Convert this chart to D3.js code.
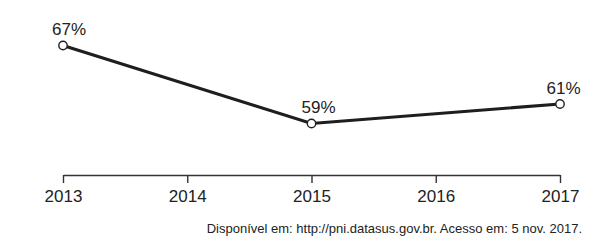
<!DOCTYPE html>
<html>
<head>
<meta charset="utf-8">
<script src="https://cdn.jsdelivr.net/npm/d3@7"></script>
<style>
  body { margin: 0; background: #fff; }
  svg { display: block; font-family: Arial, "Liberation Sans", sans-serif; }
</style>
</head>
<body>
<svg id="chart"></svg>
<script>
// data
var years = [2013, 2015, 2017];
var values = [67, 59, 61];
var tickYears = [2013, 2014, 2015, 2016, 2017];
var sourceText = "Disponível em: http://pni.datasus.gov.br. Acesso em: 5 nov. 2017.";

var screen = { width: 592, height: 243 };

var svg = d3.select("#chart")
    .attr("width", screen.width)
    .attr("height", screen.height);

var xScale = d3.scaleLinear()
    .domain([2013, 2017])
    .range([63, 560]);

var yScale = d3.scaleLinear()
    .domain([59, 67])
    .range([123.5, 45.5]);

var axisY = 175;

// x axis, ticks pointing down
var xAxis = d3.axisBottom(xScale)
    .tickValues(tickYears)
    .tickFormat(d3.format("d"))
    .tickSizeInner(8)
    .tickSizeOuter(0)
    .tickPadding(7);

var axis = svg.append("g")
    .attr("transform", "translate(0," + axisY + ")")
    .call(xAxis);

axis.select(".domain")
    .attr("stroke", "#333")
    .attr("stroke-width", 1.4);
axis.selectAll(".tick line")
    .attr("stroke", "#333")
    .attr("stroke-width", 1.4);
axis.selectAll(".tick text")
    .attr("fill", "#222")
    .style("font-size", "17px")
    .style("font-family", "Arial, 'Liberation Sans', sans-serif");

var points = years.map(function (y, i) {
    return { year: y, value: values[i] };
});

var lineGenerator = d3.line()
    .x(function (d) { return xScale(d.year); })
    .y(function (d) { return yScale(d.value); });

svg.append("path")
    .datum(points)
    .attr("d", lineGenerator)
    .attr("fill", "none")
    .attr("stroke", "#1e1e1e")
    .attr("stroke-width", 3.2);

svg.selectAll("circle")
    .data(points)
    .enter()
    .append("circle")
    .attr("cx", function (d) { return xScale(d.year); })
    .attr("cy", function (d) { return yScale(d.value); })
    .attr("r", 4.2)
    .attr("fill", "#fff")
    .attr("stroke", "#222")
    .attr("stroke-width", 1.4);

// value labels, sitting a bit right of each point
var labelOffset = [6, 7, 3.5];
svg.selectAll(".vlabel")
    .data(points)
    .enter()
    .append("text")
    .classed("vlabel", true)
    .attr("x", function (d, i) { return xScale(d.year) + labelOffset[i]; })
    .attr("y", function (d) { return yScale(d.value) - 10.5; })
    .attr("text-anchor", "middle")
    .attr("fill", "#222")
    .style("font-size", "17px")
    .text(function (d) { return d.value + "%"; });

svg.append("text")
    .attr("x", 582)
    .attr("y", 233)
    .attr("text-anchor", "end")
    .attr("fill", "#222")
    .style("font-size", "13px")
    .text(sourceText);
</script>
</body>
</html>
